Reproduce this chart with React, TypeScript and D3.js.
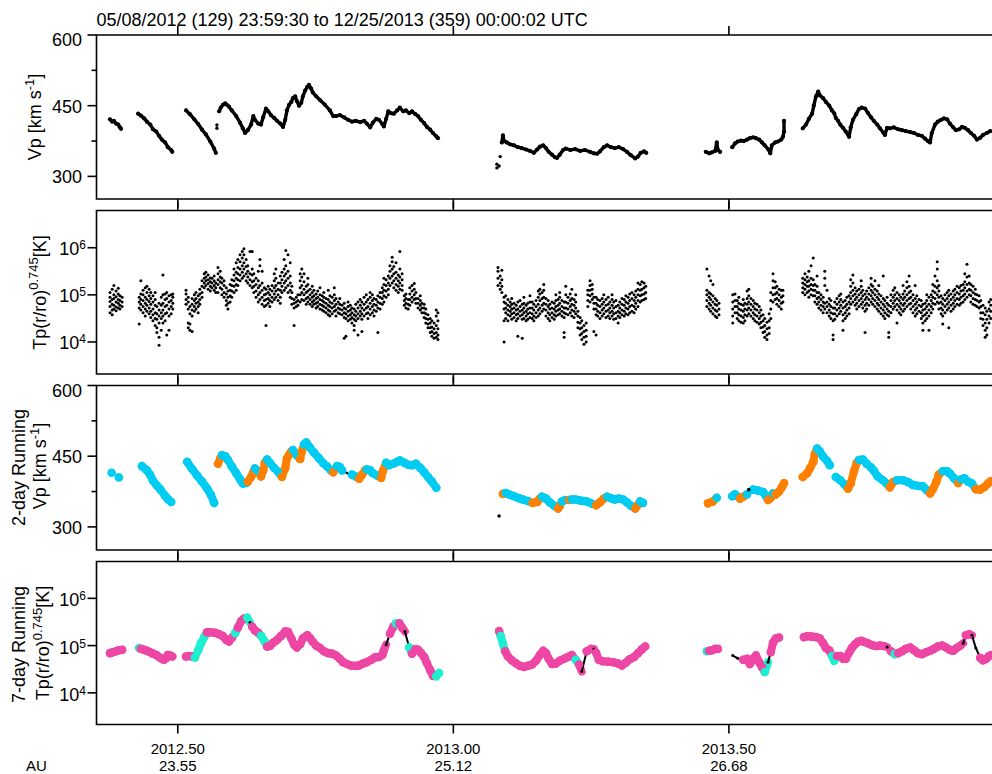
import React from 'react';
import * as d3 from 'd3';

// time is stored as years since 2012-01-01 (decimal years minus 2012)
const T0 = 2012;
const tStart = 0.3525;
const tEnd = 1.981;
const xTickT = [0.5, 1.0, 1.5];
const xTickLabels = ['2012.50', '2013.00', '2013.50'];
const auLabels = ['23.55', '25.12', '26.68'];
const titleText = '05/08/2012 (129) 23:59:30 to 12/25/2013 (359) 00:00:02 UTC';
const vpMajor = [300, 450, 600];
const vpMinor = [375, 525];
const tpDecades = [4, 5, 6];

// Panel 1: Vp [km/s], contiguous runs
const vpSegments = [
  [[.377,421],[.381,416],[.384,418],[.388,412],[.392,410],[.395,404],[.397,401]],
  [[.428,433],[.433,429],[.439,423],[.444,416],[.450,410],[.455,400],[.461,395],[.466,386],[.471,378],[.477,372],[.482,362],[.488,356],[.490,352]],
  [[.515,440],[.522,432],[.530,421],[.537,411],[.544,399],[.551,389],[.559,374],[.566,359],[.569,350]],
  [[.575,438],[.578,446],[.582,452],[.586,455],[.589,452],[.593,448],[.598,440],[.606,428],[.613,414],[.618,402],[.622,392],[.627,398],[.633,410],[.637,428],[.640,420],[.646,412],[.651,410],[.655,426],[.660,444],[.664,438],[.669,430],[.675,424],[.680,418],[.686,412],[.691,405],[.695,420],[.698,440],[.702,452],[.706,458],[.709,466],[.713,470],[.716,460],[.720,450],[.724,456],[.727,470],[.731,482],[.735,490],[.738,494],[.742,486],[.745,478],[.751,470],[.758,462],[.767,452],[.776,440],[.782,428],[.787,428],[.794,430],[.802,425],[.809,420],[.816,416],[.823,418],[.831,415],[.838,418],[.843,412],[.849,404],[.854,414],[.860,422],[.865,420],[.871,411],[.874,406],[.878,422],[.882,438],[.887,434],[.892,433],[.898,440],[.903,446],[.909,438],[.914,440],[.920,434],[.925,438],[.931,432],[.936,428],[.941,420],[.947,413],[.952,405],[.958,399],[.963,392],[.969,385],[.972,381]],
  [[1.088,372],[1.090,387],[1.092,375],[1.097,372],[1.103,368],[1.110,366],[1.117,362],[1.124,360],[1.132,357],[1.139,354],[1.146,350],[1.152,357],[1.157,363],[1.163,366],[1.168,360],[1.173,352],[1.179,346],[1.184,341],[1.188,339],[1.193,346],[1.199,356],[1.204,359],[1.212,356],[1.221,358],[1.230,354],[1.239,356],[1.248,352],[1.255,349],[1.261,348],[1.266,353],[1.273,362],[1.279,366],[1.286,362],[1.293,360],[1.300,362],[1.308,358],[1.315,352],[1.322,345],[1.330,338],[1.335,342],[1.340,350],[1.346,353],[1.350,350]],
  [[1.458,352],[1.464,349],[1.469,351],[1.475,354],[1.478,372],[1.480,356],[1.484,352]],
  [[1.506,362],[1.511,370],[1.516,374],[1.522,376],[1.527,375],[1.533,378],[1.538,381],[1.544,383],[1.549,381],[1.555,378],[1.560,372],[1.565,366],[1.571,358],[1.575,349],[1.578,366],[1.584,372],[1.589,374],[1.595,378],[1.598,384],[1.600,395],[1.600,418]],
  [[1.634,402],[1.640,410],[1.645,422],[1.651,433],[1.654,450],[1.658,470],[1.662,480],[1.665,472],[1.671,466],[1.676,458],[1.682,450],[1.687,440],[1.691,434],[1.694,424],[1.698,418],[1.702,410],[1.707,403],[1.712,395],[1.718,384],[1.721,404],[1.725,420],[1.731,432],[1.736,443],[1.741,446],[1.747,444],[1.752,435],[1.758,425],[1.763,418],[1.769,410],[1.774,402],[1.780,393],[1.783,388],[1.787,403],[1.792,402],[1.799,404],[1.807,400],[1.814,398],[1.821,396],[1.829,394],[1.836,392],[1.843,388],[1.850,386],[1.856,380],[1.861,375],[1.865,372],[1.868,392],[1.874,410],[1.879,416],[1.885,420],[1.890,423],[1.896,421],[1.901,412],[1.907,404],[1.912,398],[1.918,400],[1.923,405],[1.928,403],[1.934,398],[1.939,392],[1.945,386],[1.950,378],[1.956,382],[1.961,388],[1.968,392],[1.974,396]],
];
const vpIsolated = [[.571,409],[.571,402],[1.079,318],[1.079,326],[1.083,322],[1.085,342]];

// Panel 2: Tp(r/ro)^0.745 samples, rows = [time, log10 T ...]
const tpSamples = [
  [.377,4.62,4.75,4.86,4.95,5.05],[.381,4.68,4.80,4.90,5.12,4.58],[.384,4.70,4.78,4.92,5.00,5.20],[.388,4.74,4.85,4.96,5.08,4.66],[.392,4.72,4.82,4.90,5.02,5.14],[.395,4.70,4.78,4.88,4.98],[.399,4.75,4.85,4.95],
  [.430,4.38,4.72,4.85,4.95],[.433,5.30,4.80,4.90,5.02,4.68],[.437,4.75,4.88,5.00,5.10,4.62],[.441,4.82,4.95,5.15,4.70,4.55],[.444,4.78,4.90,5.05,5.18,4.65],[.448,4.72,4.86,4.98,5.12,4.60],[.451,4.65,4.80,4.92,5.05,4.52],[.455,4.58,4.70,4.85,4.98,4.45],[.459,4.50,4.62,4.78,4.90,4.35,5.05],[.462,4.30,4.48,4.60,4.75,4.20],[.466,4.10,4.40,4.55,4.68,4.82,3.93],[.470,4.25,4.50,4.62,4.78,4.95],[.473,4.55,4.68,4.82,5.00,4.40,5.42],[.477,4.45,4.60,4.75,4.90,5.02],[.480,4.15,4.62,4.78,4.92,5.05],[.484,4.25,4.55,4.70,4.85,4.98],[.488,4.60,4.75,4.88,5.00],[.491,4.70,4.82,4.95,5.02],
  [.515,4.90,5.02,5.10,4.80],[.519,4.40,4.30,4.85,4.95,4.70],[.522,4.25,4.38,4.60,4.75],[.526,4.55,4.68,4.80,4.92,4.22],[.530,4.65,4.75,4.88,5.00],[.533,4.70,4.82,4.92,5.05],[.537,4.75,4.85,4.98,4.62],[.540,4.80,4.90,5.02,5.12],[.544,5.05,5.18,5.30,4.95],[.548,5.15,5.25,5.35,5.45],[.551,5.20,5.30,5.38,5.48],[.555,5.12,5.24,5.32,5.42],[.559,5.08,5.18,5.28,5.36],[.562,5.15,5.25,5.35],[.566,5.10,5.20,5.30,5.40],[.569,5.05,5.15,5.25],
  [.573,5.22,5.32,5.45,5.58,5.05],[.577,5.15,5.28,5.38,5.50],[.580,5.00,5.12,5.25,5.35],[.584,4.95,5.05,5.20,5.30],[.588,4.78,4.88,5.02,5.15],[.591,4.70,4.82,4.95,5.08],[.595,4.85,4.98,5.10,5.22],[.598,4.95,5.08,5.20,5.32],[.602,5.05,5.18,5.30,5.42,5.55],[.606,5.10,5.22,5.35,5.48,5.68],[.609,5.20,5.32,5.45,5.58,5.75],[.613,5.30,5.42,5.55,5.70,5.85],[.617,5.35,5.48,5.62,5.78,5.92],[.620,5.40,5.55,5.68,5.85,5.98],[.624,5.30,5.45,5.60,5.75],[.627,5.25,5.38,5.50,5.62],[.631,5.20,5.32,5.45,5.92],[.635,5.15,5.28,5.42,5.55,5.92],[.638,5.05,5.18,5.30,5.45],[.642,4.95,5.08,5.22,5.35],[.646,4.85,5.00,5.15,5.30,5.50],[.649,4.90,5.05,5.20,5.62,5.75],[.653,4.80,4.95,5.10,5.25,5.50],[.657,4.75,4.88,5.00,5.15],[.660,4.78,4.90,5.02,5.12,4.35],[.664,4.82,4.92,5.05,5.18],[.667,4.75,4.88,5.00,5.12],[.671,4.85,4.95,5.08,5.20],[.675,4.90,5.02,5.15,5.30,5.45],[.678,4.95,5.08,5.20,5.35,5.55],[.682,4.88,5.00,5.12,5.25],[.686,4.82,4.95,5.10,5.25,5.40],[.689,5.05,5.18,5.32,5.48],[.693,5.10,5.25,5.40,5.55,5.75],[.696,5.15,5.30,5.45,5.62,5.94],[.700,5.05,5.20,5.35,5.50,5.85],[.704,4.95,5.10,5.25,5.40,5.68],[.707,4.80,4.92,5.05,5.18],[.711,4.72,4.82,4.90,4.35],[.715,4.75,4.85,4.95],[.718,4.78,4.88,5.00],
  [.722,4.85,5.00,5.15,5.30,5.45],[.725,4.90,5.05,5.20,5.38,5.55],[.729,4.88,5.00,5.12,5.28,5.45],[.733,4.80,4.92,5.05,5.18],[.736,4.85,4.95,5.08,5.22,5.35],[.740,4.80,4.90,5.00,5.12],[.744,4.75,4.85,4.95,5.05,5.18],[.747,4.80,4.88,4.98,5.10],[.751,4.72,4.82,4.92,5.02],[.754,4.75,4.85,4.95,5.08],[.758,4.70,4.80,4.90,5.00,5.15],[.762,4.68,4.78,4.88,4.98],[.765,4.65,4.75,4.85,4.95,5.05],[.769,4.62,4.72,4.82,4.92],[.773,4.58,4.68,4.78,4.90,5.10],[.776,4.55,4.65,4.75,4.85,4.98],[.780,4.60,4.72,4.82,4.95],[.784,4.65,4.75,4.88,5.00,5.15],[.787,4.55,4.68,4.80,4.92],[.791,4.62,4.72,4.85],[.794,4.60,4.70,4.80,4.92],[.798,4.58,4.68,4.78],
  [.802,4.08,4.52,4.62,4.72,4.82],[.805,4.12,4.50,4.60,4.70],[.809,4.45,4.55,4.65,4.75,4.85],[.813,4.48,4.58,4.68,4.78],[.816,4.40,4.52,4.62,4.72],[.820,4.35,4.48,4.58,4.70,4.25],[.823,4.45,4.55,4.65,4.80],[.827,4.50,4.60,4.72,4.85,4.15],[.831,4.55,4.65,4.78,4.90],[.834,4.48,4.60,4.72,4.85,4.22],[.838,4.55,4.68,4.80,4.95],[.842,4.60,4.72,4.85,5.00],[.845,4.50,4.62,4.75,4.90],[.849,4.58,4.70,4.82,4.95,5.05],[.853,4.62,4.75,4.88,5.00],[.856,4.55,4.68,4.80,4.92],[.860,4.65,4.78,4.90],[.863,4.20,4.72,4.85,4.98],[.867,4.70,4.82,4.95,5.05],[.871,4.80,4.92,5.05,5.15],[.874,4.85,4.98,5.10,5.22,5.35],[.878,4.95,5.08,5.20,5.32],[.882,5.00,5.12,5.25,5.40],[.885,5.20,5.35,5.50,5.62],[.889,5.25,5.40,5.55,5.70,5.80],[.892,5.15,5.30,5.45,5.60],[.896,5.10,5.22,5.35,5.48,5.68],[.900,5.05,5.18,5.30,5.42],[.903,5.12,5.25,5.38,5.55,5.92],[.907,5.10,5.20,5.32,5.45],
  [.911,4.78,4.88,4.98],[.914,4.72,4.82,4.92,5.02],[.918,4.70,4.80,4.90],[.921,4.78,4.90,5.02,5.15],[.925,4.85,4.95,5.08,5.20],[.929,4.90,5.00,5.12,5.24],[.932,4.82,4.92,5.05],[.936,4.72,4.82,4.92],[.940,4.68,4.78,4.88,4.98],[.943,4.62,4.72,4.82],[.947,4.52,4.62,4.72,4.80],[.950,4.40,4.50,4.60,4.70],[.954,4.30,4.38,4.48,4.58],[.958,4.20,4.30,4.40,4.50],[.961,4.12,4.22,4.32,4.45],[.965,4.08,4.18,4.28,4.40],[.969,4.10,4.20,4.35,4.55,4.68],[.972,4.05,4.15,4.28,4.45,4.62],
  [1.081,5.20,5.35,5.50,5.58],[1.085,5.12,5.25,5.40],[1.088,5.05,5.18,5.32,5.52],[1.092,4.45,4.70,4.85,4.95,4.00],[1.095,4.50,4.62,4.72,4.82,4.98],[1.099,4.45,4.58,4.68,4.78,4.90],[1.103,4.55,4.65,4.75,4.85],[1.106,4.48,4.60,4.70,4.80,4.92],[1.110,4.52,4.62,4.72,4.82],[1.114,4.45,4.58,4.68,4.78],[1.117,4.50,4.60,4.70,4.85,4.12],[1.121,4.55,4.65,4.75,4.88],[1.125,4.48,4.58,4.68,4.80,4.08],[1.128,4.50,4.62,4.72,4.82,4.95],[1.132,4.45,4.55,4.65,4.78],[1.135,4.48,4.60,4.70,4.82],[1.139,4.52,4.62,4.72,4.85,4.98],[1.143,4.50,4.60,4.72,4.85],[1.146,4.45,4.55,4.68,4.80],[1.150,4.52,4.62,4.75,4.88],[1.154,4.55,4.68,4.80,4.95,5.08],[1.157,4.60,4.72,4.88,5.02,5.12],[1.161,4.65,4.78,4.92,5.05],[1.164,4.70,4.82,4.95,5.10,5.22],[1.168,4.55,4.68,4.80,4.92],[1.172,4.50,4.62,4.75,4.88],[1.175,4.45,4.58,4.70,4.80],[1.179,4.52,4.62,4.72,4.85],[1.183,4.48,4.58,4.70,4.82],[1.186,4.55,4.65,4.75,4.88,5.00],[1.190,4.58,4.68,4.78,4.90],[1.193,4.60,4.70,4.82,4.95,5.05],[1.197,4.55,4.65,4.75,4.88],[1.201,4.20,4.52,4.62,4.72,4.85,4.10],[1.204,4.60,4.72,4.85,5.00,5.18],[1.208,4.58,4.70,4.82,4.95],[1.212,4.62,4.75,4.88,5.02],[1.215,4.55,4.68,4.80,4.92,5.12],[1.219,4.52,4.65,4.78,4.90],[1.222,4.60,4.72,4.85,5.00],
  [1.226,4.30,4.42,4.55,4.65],[1.230,4.15,4.28,4.40,4.52],[1.233,4.05,4.18,4.30,4.45],[1.237,3.95,4.10,4.22,4.35],[1.241,4.00,4.12,4.25,4.40],[1.244,4.75,4.88,5.00,5.10],[1.248,4.85,4.98,5.10,5.20,5.30],[1.252,4.90,5.02,5.12,5.22],[1.255,4.70,4.82,4.95,4.22],[1.259,4.58,4.70,4.82,4.95,4.15],[1.262,4.55,4.65,4.78,4.90],[1.266,4.50,4.62,4.75,4.88],[1.270,4.55,4.68,4.80,4.92],[1.273,4.60,4.72,4.85,5.00],[1.277,4.52,4.65,4.78,4.90],[1.281,4.55,4.68,4.80,4.95],[1.284,4.50,4.62,4.72,4.85],[1.288,4.55,4.65,4.78,4.90,5.00],[1.291,4.48,4.60,4.72,4.85],[1.295,4.50,4.62,4.75,4.88],[1.299,4.55,4.65,4.78,4.40],[1.302,4.52,4.62,4.72,4.85],[1.306,4.58,4.68,4.80,4.92],[1.310,4.55,4.65,4.78,4.90],[1.313,4.60,4.72,4.85,4.98],[1.317,4.58,4.70,4.82,4.95],[1.320,4.62,4.75,4.88,5.02],[1.324,4.65,4.78,4.92,5.05],[1.328,4.62,4.75,4.88,5.00],[1.331,4.70,4.82,4.95,5.08],[1.335,4.75,4.88,5.00,5.12,5.25],[1.339,4.85,4.98,5.10,5.22],[1.342,4.88,5.00,5.12,5.28],[1.346,4.90,5.02,5.15,5.25],[1.349,4.92,5.05,5.18],
  [1.460,4.75,4.88,5.00,5.10,5.55],[1.464,4.70,4.82,4.95,5.05,5.40],[1.467,4.65,4.78,4.90,5.02,5.30],[1.471,4.60,4.72,4.85,4.98,5.22],[1.475,4.55,4.68,4.80,4.92],[1.478,4.52,4.65,4.78,4.88],[1.482,4.58,4.70,4.82],
  [1.507,4.40,4.55,4.70,4.85,5.00],[1.511,4.62,4.75,4.88,5.02],[1.515,4.50,4.62,4.75,4.88],[1.518,4.45,4.58,4.70,4.82,4.95],[1.522,4.42,4.55,4.68,4.80],[1.526,4.40,4.52,4.65,4.78,4.90],[1.529,4.45,4.58,4.70,4.82],[1.533,4.55,4.68,4.80,4.92,5.08],[1.536,4.60,4.72,4.85,4.98,5.12],[1.540,4.55,4.68,4.80,4.92],[1.544,4.50,4.62,4.75,4.88],[1.547,4.45,4.58,4.70,4.82],[1.551,4.42,4.55,4.68,4.80],[1.555,4.38,4.50,4.62,4.75],[1.558,4.30,4.42,4.55,4.68],[1.562,4.20,4.32,4.45,4.58],[1.565,4.10,4.22,4.35,4.50],[1.569,4.05,4.15,4.28,4.42],[1.573,4.18,4.30,4.45,4.60],[1.576,4.50,4.70,4.88,5.05],[1.580,4.85,5.00,5.15,5.30,5.45],[1.584,4.90,5.02,5.15,5.28],[1.587,4.80,4.92,5.05,5.18],[1.591,4.75,4.88,5.00,5.12],[1.595,4.70,4.82,4.95,5.10],[1.598,4.85,4.98,5.10],
  [1.634,5.05,5.15,5.25,5.35],[1.638,5.00,5.12,5.22,5.32,5.45],[1.642,5.05,5.18,5.28,5.38],[1.645,4.95,5.08,5.18,5.30,5.50],[1.649,5.00,5.12,5.22,5.35,5.62],[1.653,4.98,5.10,5.20,5.32,5.78],[1.656,4.85,4.98,5.10,5.22],[1.660,4.80,4.92,5.05,5.18,5.40],[1.663,4.72,4.85,4.95,5.05],[1.667,4.68,4.78,4.90,5.00],[1.671,4.62,4.75,4.85,4.95],[1.674,4.70,4.82,5.20,5.35,5.50],[1.678,4.62,4.75,4.85,5.10],[1.682,4.55,4.68,4.80,4.92],[1.685,4.50,4.62,4.75,4.88],[1.689,4.05,4.15,4.45,4.60,4.72],[1.692,4.48,4.60,4.72,4.85],[1.696,4.55,4.68,4.80,4.92],[1.700,4.60,4.72,4.85,4.98],[1.703,4.65,4.78,4.90,5.02],[1.707,4.45,4.58,4.72,4.85,4.25],[1.711,4.50,4.62,4.75,4.88],[1.714,4.55,4.68,4.80,4.95],[1.718,4.60,4.72,4.85,4.98],
  [1.721,4.80,4.92,5.05,5.18,5.32],[1.725,4.85,4.98,5.10,5.25,5.42],[1.729,4.78,4.90,5.02,5.15],[1.732,4.70,4.82,4.95,5.08],[1.736,4.75,4.88,5.00,5.12],[1.740,4.80,4.92,5.05,5.18,5.30],[1.743,4.72,4.85,4.98,5.10],[1.747,4.65,4.78,4.90,5.02,4.20],[1.750,4.70,4.82,4.95,5.08],[1.754,4.78,4.90,5.02,5.15],[1.758,4.85,4.98,5.10,5.22,5.35],[1.761,4.80,4.92,5.05,5.18],[1.765,4.75,4.88,5.00,5.12,5.30],[1.769,4.70,4.82,4.95,5.08],[1.772,4.65,4.78,4.90,5.02,5.20],[1.776,4.60,4.72,4.85,4.98],[1.780,4.55,4.68,4.80,4.92,5.40],[1.783,4.50,4.62,4.75,4.88],[1.787,4.58,4.70,4.82,4.95],[1.790,4.55,4.65,4.78,4.20,4.10],
  [1.794,4.62,4.75,4.88,5.00],[1.798,4.70,4.82,4.95,5.10],[1.801,4.75,4.88,5.00,5.15],[1.805,4.68,4.80,4.92,5.05,4.40],[1.809,4.62,4.75,4.88,5.00],[1.812,4.58,4.70,4.82,4.95],[1.816,4.65,4.78,4.90,5.02,5.20],[1.819,4.70,4.82,4.95,5.08],[1.823,4.75,4.88,5.00,5.15,5.28],[1.827,4.80,4.92,5.05,5.18,5.40],[1.830,4.70,4.82,4.95,5.08],[1.834,4.62,4.75,4.88,5.00],[1.838,4.55,4.68,4.80,4.92,5.20],[1.841,4.60,4.72,4.85,4.98],[1.845,4.65,4.78,4.90],[1.849,4.50,4.62,4.75,4.88],[1.852,4.40,4.55,4.68,4.80,4.25],[1.856,4.45,4.58,4.70,4.82],[1.859,4.50,4.62,4.75,4.88,5.00],[1.863,4.55,4.68,4.80,4.95,4.25],[1.867,4.62,4.75,4.88,5.00],[1.870,4.70,4.82,4.95,5.08,5.22],[1.874,4.80,4.92,5.05,5.18,5.40],[1.878,4.85,5.00,5.15,5.30,5.55,5.70],
  [1.881,4.70,4.82,4.95,5.08,5.20],[1.885,4.60,4.72,4.85,4.98],[1.888,4.55,4.68,4.80,4.92,4.38],[1.892,4.62,4.75,4.88,5.00],[1.896,4.68,4.80,4.92,5.05],[1.899,4.72,4.85,4.98,5.10,4.30],[1.903,4.65,4.78,4.90,5.02],[1.907,4.70,4.82,4.95,5.08],[1.910,4.75,4.88,5.00,5.12],[1.914,4.80,4.92,5.05,5.18],[1.918,4.78,4.90,5.02,5.15],[1.921,4.82,4.95,5.08,5.20],[1.925,4.85,4.98,5.10,5.22],[1.928,4.90,5.02,5.15,5.28,5.45],[1.932,4.95,5.08,5.22,5.38,5.65],[1.936,5.00,5.12,5.25,5.40],[1.939,4.85,4.98,5.10,5.22],[1.943,4.80,4.92,5.05,5.18],[1.947,4.78,4.90,5.02,5.12],[1.950,4.75,4.88,5.00],[1.954,4.72,4.85,4.98],[1.957,4.50,4.62,4.75,4.88],[1.961,4.35,4.48,4.62,4.78],[1.965,4.10,4.25,4.40,4.58,4.72],[1.968,4.15,4.30,4.48,4.65],[1.972,4.40,4.55,4.70,4.85],[1.975,4.50,4.65,4.78,4.90],
];

// Panel 3: 2-day running Vp; flag u = rising, d = falling
const vp2Segments = [
  [[.380,415,'d']],
  [[.393,405,'d']],
  [[.435,429,'d'],[.444,420,'d'],[.450,410,'d'],[.455,398,'d'],[.462,388,'d'],[.468,380,'d'],[.477,366,'d'],[.482,359,'d'],[.488,353,'d']],
  [[.517,438,'d'],[.526,423,'d'],[.535,409,'d'],[.544,396,'d'],[.553,382,'d'],[.560,368,'d'],[.566,351,'d']],
  [[.573,434,'u'],[.577,445,'u'],[.580,452,'d'],[.586,450,'d'],[.591,442,'d'],[.598,428,'d'],[.606,414,'d'],[.613,401,'d'],[.618,392,'d'],[.624,393,'d'],[.627,396,'u'],[.633,406,'u'],[.637,416,'u'],[.640,424,'d'],[.646,418,'d'],[.651,407,'u'],[.655,420,'u'],[.658,436,'u'],[.662,443,'d'],[.667,436,'d'],[.675,425,'d'],[.682,417,'d'],[.689,406,'u'],[.695,425,'u'],[.698,445,'u'],[.702,453,'u'],[.706,460,'u'],[.709,463,'d'],[.716,452,'d'],[.722,444,'u'],[.725,460,'u'],[.729,475,'d'],[.733,479,'d'],[.740,468,'d'],[.747,458,'d'],[.756,446,'d'],[.764,435,'d'],[.771,428,'d'],[.778,420,'d'],[.782,416,'u'],[.789,429,'d'],[.794,427,'d'],[.798,420,'d']],
  [[.816,411,'d'],[.823,407,'d'],[.829,402,'u'],[.834,410,'u'],[.840,420,'u'],[.843,422,'d'],[.849,420,'d'],[.854,414,'d'],[.862,409,'d'],[.869,404,'u'],[.872,418,'u'],[.878,436,'d'],[.883,431,'d'],[.891,434,'d'],[.898,438,'d'],[.903,441,'d'],[.911,436,'d'],[.918,432,'d'],[.925,431,'d'],[.932,434,'d'],[.940,425,'d'],[.947,416,'d'],[.954,406,'d'],[.961,396,'d'],[.969,383,'d']],
  [[1.090,370,'u'],[1.095,372,'d'],[1.103,368,'d'],[1.110,365,'d'],[1.119,361,'d'],[1.126,358,'d'],[1.135,355,'d'],[1.144,351,'u'],[1.152,353,'u'],[1.157,360,'u'],[1.161,364,'d'],[1.168,360,'d'],[1.175,352,'d'],[1.183,345,'d'],[1.190,339,'u'],[1.193,344,'u'],[1.197,354,'d'],[1.203,357,'d'],[1.210,357,'u'],[1.215,358,'d'],[1.222,358,'d'],[1.230,356,'d'],[1.237,355,'d'],[1.244,353,'d'],[1.252,349,'d'],[1.259,346,'u'],[1.266,352,'u'],[1.273,360,'u'],[1.279,364,'d'],[1.286,361,'d'],[1.293,358,'d'],[1.300,360,'d'],[1.308,358,'d'],[1.315,352,'d'],[1.322,345,'d'],[1.330,339,'u'],[1.335,347,'u'],[1.339,354,'d'],[1.344,351,'d']],
  [[1.462,350,'u'],[1.471,354,'u'],[1.478,362,'d']],
  [[1.506,365,'d'],[1.511,369,'d'],[1.520,360,'u'],[1.526,364,'u'],[1.533,369,'d']],
  [[1.544,379,'d'],[1.553,377,'d'],[1.562,374,'d'],[1.567,366,'d'],[1.571,357,'u'],[1.576,362,'u'],[1.580,371,'d'],[1.585,369,'u'],[1.591,375,'u'],[1.596,384,'u'],[1.600,393,'u']],
  [[1.634,406,'u'],[1.642,414,'u'],[1.647,424,'u'],[1.653,438,'u'],[1.656,455,'u'],[1.660,466,'d'],[1.665,460,'d'],[1.671,449,'d'],[1.678,440,'d'],[1.683,431,'d']],
  [[1.694,406,'d'],[1.702,399,'d'],[1.709,391,'d'],[1.716,381,'u'],[1.721,392,'u'],[1.727,418,'u'],[1.732,436,'u'],[1.736,442,'d'],[1.743,443,'d'],[1.750,434,'d'],[1.758,426,'d'],[1.763,419,'d'],[1.770,407,'d'],[1.778,400,'d'],[1.785,393,'d'],[1.792,384,'u'],[1.798,395,'u'],[1.805,399,'d'],[1.816,399,'d'],[1.825,395,'d'],[1.834,389,'d'],[1.843,387,'d'],[1.852,386,'d'],[1.859,378,'d'],[1.865,371,'u'],[1.870,380,'u'],[1.876,395,'u'],[1.881,411,'u'],[1.888,418,'d'],[1.896,418,'d'],[1.901,413,'d'],[1.908,404,'d'],[1.916,393,'u'],[1.921,401,'d'],[1.927,403,'d'],[1.934,396,'d'],[1.941,392,'d'],[1.948,380,'u'],[1.956,379,'u'],[1.963,384,'u'],[1.970,392,'u'],[1.975,397,'u']],
];
const vp2Unflagged = [[[.798,420],[.809,413],[.816,411]]];
const vp2UnflaggedDots = [[1.083,323],[1.536,379]];

// Panel 4: 7-day running Tp (log10); flag p / t = two classes, k = unclassified
const tp7Segments = [
  [[.377,4.84,'p'],[.382,4.86,'p'],[.388,4.88,'p'],[.393,4.90,'p'],[.399,4.91,'p']],
  [[.430,4.95,'t'],[.433,4.93,'p'],[.439,4.91,'p'],[.444,4.89,'p'],[.450,4.86,'p'],[.455,4.83,'p'],[.461,4.80,'p'],[.466,4.76,'p'],[.471,4.72,'p'],[.475,4.70,'p'],[.479,4.74,'p'],[.482,4.80,'p'],[.486,4.79,'p'],[.490,4.77,'p']],
  [[.515,4.77,'p'],[.520,4.78,'p'],[.526,4.77,'p'],[.531,4.75,'t'],[.537,4.90,'t'],[.542,5.05,'t'],[.548,5.18,'t'],[.553,5.28,'p'],[.560,5.28,'p'],[.568,5.27,'p'],[.575,5.24,'p'],[.582,5.20,'p'],[.588,5.12,'p'],[.593,5.09,'p'],[.598,5.16,'p'],[.604,5.26,'t'],[.609,5.38,'p'],[.615,5.52,'p'],[.620,5.57,'p'],[.626,5.59,'t'],[.631,5.49,'k'],[.635,5.40,'p'],[.640,5.32,'p'],[.646,5.27,'p'],[.651,5.21,'t'],[.657,5.10,'t'],[.662,4.98,'p'],[.667,4.99,'p'],[.673,5.06,'p'],[.680,5.12,'p'],[.687,5.20,'p'],[.695,5.30,'p'],[.700,5.29,'p'],[.706,5.15,'p'],[.711,5.02,'p'],[.716,4.96,'p'],[.722,5.03,'p'],[.727,5.15,'p'],[.735,5.22,'p'],[.740,5.16,'p'],[.745,5.08,'p'],[.751,5.00,'p'],[.758,4.95,'p'],[.765,4.88,'p'],[.773,4.84,'p'],[.780,4.83,'p'],[.787,4.79,'p'],[.794,4.72,'p'],[.800,4.65,'p'],[.807,4.61,'p'],[.814,4.58,'p'],[.822,4.57,'p'],[.829,4.58,'p'],[.836,4.62,'p'],[.843,4.65,'p'],[.851,4.70,'p'],[.858,4.75,'p'],[.865,4.76,'p'],[.871,4.80,'p'],[.874,4.90,'p'],[.878,5.02,'k'],[.885,5.25,'p'],[.891,5.40,'p'],[.896,5.47,'t'],[.902,5.47,'p'],[.907,5.38,'p'],[.912,5.30,'k'],[.920,4.96,'t'],[.925,4.83,'p'],[.931,4.92,'p'],[.936,4.91,'p'],[.941,4.85,'p'],[.947,4.76,'p'],[.952,4.63,'p'],[.958,4.48,'p'],[.963,4.36,'p'],[.969,4.35,'t'],[.974,4.42,'t']],
  [[1.083,5.31,'p'],[1.086,5.20,'t'],[1.090,5.04,'t'],[1.094,4.88,'p'],[1.099,4.77,'p'],[1.106,4.69,'p'],[1.114,4.62,'p'],[1.121,4.57,'p'],[1.128,4.55,'p'],[1.135,4.57,'p'],[1.143,4.60,'p'],[1.150,4.68,'p'],[1.157,4.80,'p'],[1.163,4.89,'p'],[1.168,4.84,'p'],[1.173,4.72,'p'],[1.179,4.61,'p'],[1.186,4.62,'p'],[1.193,4.68,'p'],[1.201,4.72,'p'],[1.208,4.76,'p'],[1.215,4.80,'p'],[1.222,4.70,'t'],[1.228,4.60,'p'],[1.233,4.45,'k'],[1.242,4.88,'p'],[1.250,4.93,'p'],[1.255,4.93,'k'],[1.259,4.85,'p'],[1.264,4.70,'p'],[1.271,4.67,'p'],[1.281,4.66,'p'],[1.290,4.65,'p'],[1.299,4.62,'p'],[1.306,4.58,'p'],[1.313,4.64,'p'],[1.320,4.71,'p'],[1.328,4.76,'p'],[1.335,4.84,'p'],[1.342,4.92,'p'],[1.348,4.98,'p']],
  [[1.460,4.88,'t'],[1.464,4.89,'p'],[1.469,4.90,'p'],[1.475,4.93,'p'],[1.480,4.93,'p']],
  [[1.507,4.79,'k'],[1.516,4.73,'k'],[1.526,4.70,'p'],[1.533,4.72,'p'],[1.538,4.61,'p'],[1.544,4.72,'p'],[1.549,4.79,'p'],[1.555,4.65,'p'],[1.560,4.54,'p'],[1.565,4.44,'t'],[1.571,4.65,'k'],[1.576,4.86,'p'],[1.580,5.06,'p'],[1.585,5.15,'p'],[1.591,5.17,'p']],
  [[1.636,5.18,'p'],[1.643,5.20,'p'],[1.651,5.19,'p'],[1.658,5.18,'p'],[1.665,5.15,'p'],[1.671,5.05,'p'],[1.676,4.95,'p'],[1.682,4.90,'p'],[1.687,4.78,'t'],[1.691,4.68,'t'],[1.696,4.78,'p'],[1.702,4.78,'p'],[1.707,4.72,'p'],[1.712,4.72,'p'],[1.718,4.85,'p'],[1.723,4.95,'p'],[1.729,5.03,'p'],[1.734,5.08,'p'],[1.740,5.10,'p'],[1.745,5.08,'p'],[1.752,5.05,'p'],[1.760,5.01,'p'],[1.767,4.99,'p'],[1.774,5.00,'p'],[1.781,4.99,'p'],[1.787,4.97,'k'],[1.794,4.88,'p'],[1.801,4.82,'t'],[1.807,4.84,'p'],[1.814,4.88,'p'],[1.821,4.93,'p'],[1.829,4.96,'p'],[1.836,4.90,'p'],[1.843,4.84,'p'],[1.850,4.82,'p'],[1.858,4.86,'p'],[1.865,4.89,'p'],[1.872,4.93,'p'],[1.879,4.98,'p'],[1.887,5.00,'p'],[1.894,4.96,'p'],[1.901,4.91,'p'],[1.907,4.89,'p'],[1.912,4.94,'p'],[1.919,4.99,'p'],[1.925,5.05,'k'],[1.930,5.22,'p'],[1.936,5.24,'p'],[1.941,5.22,'k'],[1.948,4.95,'k'],[1.956,4.74,'p'],[1.961,4.69,'p'],[1.967,4.72,'p'],[1.972,4.78,'p'],[1.977,4.80,'p']],
];

const FONT = "'Liberation Sans', Arial, Helvetica, sans-serif";
const COLORS = { u: '#FF8000', d: '#00CCF2', p: '#EE46A4', t: '#1CF0D0', k: '#000000' };

export default function App() {
  const L = 96.5, R = 992;
  const x = d3.scaleLinear().domain([T0 + tStart, T0 + tEnd]).range([L, 994]);
  const X = (t) => x(T0 + t);
  const P = [
    { top: 35, bottom: 199 },
    { top: 210.5, bottom: 374 },
    { top: 385.5, bottom: 550 },
    { top: 561.5, bottom: 724.5 },
  ];
  const y1 = d3.scaleLinear().domain([252, 600]).range([P[0].bottom, P[0].top]);
  const y2 = d3.scaleLog().domain([Math.pow(10, 3.32), Math.pow(10, 6.79)]).range([P[1].bottom, P[1].top]);
  const y3 = d3.scaleLinear().domain([251, 600]).range([P[2].bottom, P[2].top]);
  const y4 = d3.scaleLog().domain([Math.pow(10, 3.33), Math.pow(10, 6.78)]).range([P[3].bottom, P[3].top]);
  const pow = (v) => Math.pow(10, v);

  const els = [];
  // frames and x ticks
  P.forEach((p, i) => {
    els.push(<path key={'fr' + i} d={`M${R},${p.top}H${L}V${p.bottom}H${R}`} fill="none" stroke="#000" strokeWidth={1.6} />);
    xTickT.forEach((t, j) => {
      const xx = X(t);
      els.push(<line key={`xt${i}-${j}a`} x1={xx} x2={xx} y1={p.top} y2={p.top - 9} stroke="#000" strokeWidth={1.6} />);
      els.push(<line key={`xt${i}-${j}b`} x1={xx} x2={xx} y1={p.bottom} y2={p.bottom + 9} stroke="#000" strokeWidth={1.6} />);
    });
  });

  // linear y axes (panels 1, 3)
  [[y1, P[0]], [y3, P[2]]].forEach(([ys, p], i) => {
    vpMajor.forEach((v) => {
      const yy = ys(v);
      els.push(<line key={`ym${i}-${v}`} x1={L} x2={L - 9} y1={yy} y2={yy} stroke="#000" strokeWidth={1.6} />);
      const base = v === 600 ? p.top + 11 : yy + 7;
      els.push(<text key={`yl${i}-${v}`} x={82} y={base} textAnchor="end" fontSize={18} fontFamily={FONT}>{v}</text>);
    });
    vpMinor.forEach((v) => {
      const yy = ys(v);
      els.push(<line key={`yn${i}-${v}`} x1={L} x2={L - 5} y1={yy} y2={yy} stroke="#000" strokeWidth={1.6} />);
    });
  });
  // log y axes (panels 2, 4)
  [[y2, 7.5], [y4, 8]].forEach(([ys, off], i) => {
    tpDecades.forEach((e) => {
      const yy = ys(pow(e));
      els.push(<line key={`lm${i}-${e}`} x1={L} x2={L - 9} y1={yy} y2={yy} stroke="#000" strokeWidth={1.6} />);
      els.push(
        <text key={`ll${i}-${e}`} x={86} y={yy + off} textAnchor="end" fontSize={18} fontFamily={FONT}>
          10<tspan fontSize={12} dy={-6}>{e}</tspan>
        </text>
      );
    });
  });

  // Panel 1: Vp
  const line1 = d3.line().x((d) => X(d[0])).y((d) => y1(d[1]));
  vpSegments.forEach((seg, i) => {
    els.push(<path key={'vp' + i} d={line1(seg)} fill="none" stroke="#000" strokeWidth={3.4} strokeLinejoin="round" strokeLinecap="round" />);
    seg.forEach((d, j) => {
      els.push(<circle key={`vpc${i}-${j}`} cx={X(d[0])} cy={y1(d[1])} r={2.1} fill="#000" />);
    });
  });
  vpIsolated.forEach((d, i) => {
    els.push(<circle key={'vpi' + i} cx={X(d[0])} cy={y1(d[1])} r={1.7} fill="#000" />);
  });

  // Panel 2: Tp scatter
  tpSamples.forEach((row, i) => {
    const cx = X(row[0]);
    row.slice(1).forEach((v, j) => {
      els.push(<circle key={`tp${i}-${j}`} cx={cx} cy={y2(pow(v))} r={1.5} fill="#000" />);
    });
  });

  // banded series renderer
  const band = (segs, yf, prefix) => {
    segs.forEach((seg, si) => {
      for (let i = 0; i < seg.length - 1; i++) {
        const a = seg[i], b = seg[i + 1];
        const k = a[2];
        els.push(
          <line key={`${prefix}l${si}-${i}`} x1={X(a[0])} y1={yf(a[1])} x2={X(b[0])} y2={yf(b[1])}
            stroke={COLORS[k]} strokeWidth={k === 'k' ? 2 : 8} strokeLinecap="round" />
        );
      }
    });
    segs.forEach((seg, si) => {
      seg.forEach((a, i) => {
        if (a[2] === 'k') {
          els.push(<circle key={`${prefix}c${si}-${i}`} cx={X(a[0])} cy={yf(a[1])} r={1.5} fill="#000" />);
        } else {
          els.push(<circle key={`${prefix}c${si}-${i}`} cx={X(a[0])} cy={yf(a[1])} r={4.3} fill={COLORS[a[2]]} />);
        }
      });
    });
  };

  // Panel 3
  const line3 = d3.line().x((d) => X(d[0])).y((d) => y3(d[1]));
  vp2Unflagged.forEach((seg, i) => {
    els.push(<path key={'v2u' + i} d={line3(seg)} fill="none" stroke="#000" strokeWidth={2.2} />);
  });
  band(vp2Segments, (v) => y3(v), 'v2');
  vp2UnflaggedDots.forEach((d, i) => {
    els.push(<circle key={'v2d' + i} cx={X(d[0])} cy={y3(d[1])} r={1.8} fill="#000" />);
  });

  // Panel 4
  band(tp7Segments, (v) => y4(pow(v)), 't7');

  return (
    <svg width={992} height={774} style={{ position: 'absolute', left: 0, top: 0, background: '#fff' }}
      xmlns="http://www.w3.org/2000/svg">
      <rect x={0} y={0} width={992} height={774} fill="#fff" />
      {els}
      <text x={96.5} y={26} fontSize={18} fontFamily={FONT}>{titleText}</text>
      {/* axis titles */}
      <text transform="translate(40.5,117) rotate(-90)" textAnchor="middle" fontSize={18} fontFamily={FONT}>
        Vp [km s<tspan fontSize={13} dy={-7}>-1</tspan><tspan dy={7}>]</tspan>
      </text>
      <text transform="translate(45.7,292.5) rotate(-90)" textAnchor="middle" fontSize={18} fontFamily={FONT}>
        Tp(r/ro)<tspan fontSize={13} dy={-7.5}>0.745</tspan><tspan dy={7.5}>[K]</tspan>
      </text>
      <text transform="translate(24.7,467.5) rotate(-90)" textAnchor="middle" fontSize={18} fontFamily={FONT}>2-day Running</text>
      <text transform="translate(45.7,466) rotate(-90)" textAnchor="middle" fontSize={18} fontFamily={FONT}>
        Vp [km s<tspan fontSize={13} dy={-7}>-1</tspan><tspan dy={7}>]</tspan>
      </text>
      <text transform="translate(24.7,644.5) rotate(-90)" textAnchor="middle" fontSize={18} fontFamily={FONT}>7-day Running</text>
      <text transform="translate(49.3,643) rotate(-90)" textAnchor="middle" fontSize={18} fontFamily={FONT}>
        Tp(r/ro)<tspan fontSize={13} dy={-7.5}>0.745</tspan><tspan dy={7.5}>[K]</tspan>
      </text>
      {/* bottom labels */}
      {xTickT.map((t, i) => (
        <g key={'bl' + i}>
          <text x={X(t)} y={753.5} textAnchor="middle" fontSize={15} fontFamily={FONT}>{xTickLabels[i]}</text>
          <text x={X(t)} y={771} textAnchor="middle" fontSize={15} fontFamily={FONT}>{auLabels[i]}</text>
        </g>
      ))}
      <text x={26} y={771} fontSize={15} fontFamily={FONT}>AU</text>
    </svg>
  );
}
